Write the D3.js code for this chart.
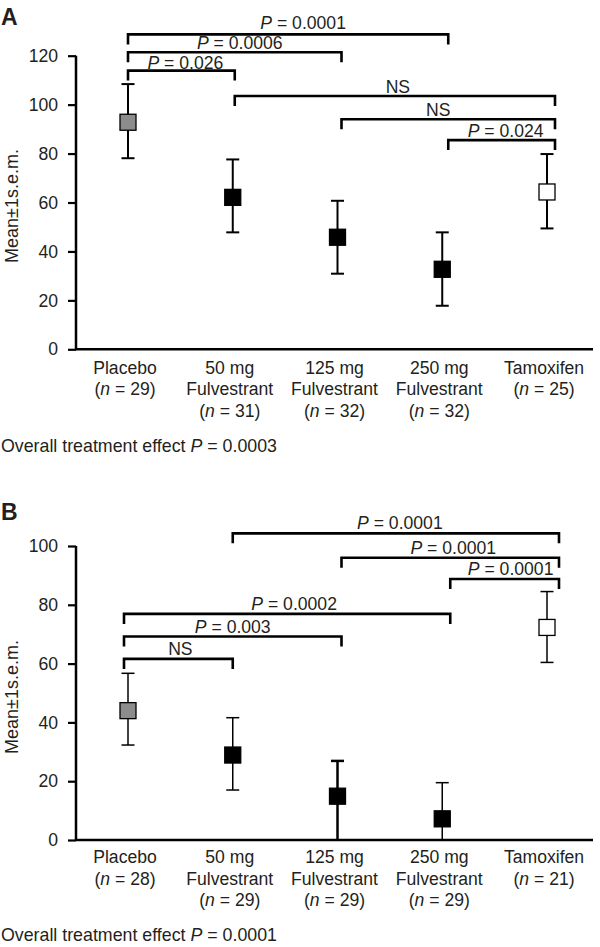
<!DOCTYPE html>
<html><head><meta charset="utf-8">
<script src="https://cdn.jsdelivr.net/npm/d3@7"></script>
<style>
body{margin:0;background:#fff;}
text{font-family:"Liberation Sans",Arial,Helvetica,sans-serif;fill:#231f20;}
</style></head>
<body><svg id="c" width="600" height="947"></svg>
<script>
// ---- data ----
const categories = [["Placebo"],["50 mg","Fulvestrant"],["125 mg","Fulvestrant"],["250 mg","Fulvestrant"],["Tamoxifen"]];
const nA = [29,31,32,32,25];
const nB = [28,29,29,29,21];
const meanA  = [92.8,62.1,45.8,32.7,64.3];
const upperA = [108.4,77.6,60.7,47.8,79.8];
const lowerA = [78.1,47.8,30.9,17.8,49.4];
const meanB  = [44.0,28.9,14.9,7.2,72.3];
const upperB = [56.7,41.6,26.9,19.5,84.5];
const lowerB = [32.3,17.0,0,0,60.4];
const ticksA = [0,20,40,60,80,100,120];
const ticksB = [0,20,40,60,80,100];
const bracketFromA  = [0,0,0,1,2,3];
const bracketToA    = [3,2,1,4,4,4];
const bracketLevelA = [128.7,121.4,113.9,103.5,94.0,85.5];
const bracketLabelA = ["P = 0.0001","P = 0.0006","P = 0.026","NS","NS","P = 0.024"];
const bracketFromB  = [1,2,3,0,0,0];
const bracketToB    = [4,4,4,3,2,1];
const bracketLevelB = [104.3,96.0,88.8,76.9,69.2,61.6];
const bracketLabelB = ["P = 0.0001","P = 0.0001","P = 0.0001","P = 0.0002","P = 0.003","NS"];
const overallA = "0.0003", overallB = "0.0001";
const yTitle = "Mean\u00b11s.e.m.";

// ---- style ----
const fills = ["#8c8c8c","#000","#000","#000","#fff"];
const FS = 17.6;
const svg = d3.select("#c");

function pText(sel, label){
  if(label.startsWith("P = ")){
    sel.append("tspan").attr("font-style","italic").text("P");
    sel.append("tspan").text(" = " + label.slice(4));
  } else sel.text(label);
}

function panel(o){
  const g = svg.append("g");
  const x = d3.scalePoint().domain(d3.range(5)).range([128,547]);
  const xb = d3.scalePoint().domain(d3.range(5)).range(o.bracketRange);
  const y = d3.scaleLinear().domain([0,o.ymax]).range(o.yRange);

  g.append("text").attr("x",1).attr("y",o.letterY).attr("font-size",23).attr("font-weight","bold").text(o.letter);

  const ax = g.append("g").attr("transform","translate(76,0)")
    .call(d3.axisLeft(y).tickValues(o.ticks).tickSize(8).tickSizeOuter(0).tickPadding(10).tickFormat(d3.format("d")));
  ax.select(".domain").remove();
  ax.selectAll(".tick line").attr("stroke","#000").attr("stroke-width",2.2);
  ax.selectAll(".tick text").attr("font-size",FS).attr("fill","#231f20").attr("font-family","Liberation Sans, Arial, sans-serif");
  g.append("line").attr("x1",76).attr("x2",76).attr("y1",y(0)).attr("y2",y(o.ymax)).attr("stroke","#000").attr("stroke-width",2.5);
  g.append("line").attr("x1",76).attr("x2",593).attr("y1",y(0)).attr("y2",y(0)).attr("stroke","#000").attr("stroke-width",2.5);

  g.append("text").attr("transform",`translate(18,${o.titleY}) rotate(-90)`).attr("text-anchor","middle").attr("font-size",18).text(yTitle);

  d3.range(5).forEach(i=>{
    const cx = x(i);
    const sw = o.ebWidth[i];
    g.append("line").attr("x1",cx).attr("x2",cx).attr("y1",y(o.upper[i])).attr("y2",y(o.lower[i])).attr("stroke","#000").attr("stroke-width",sw);
    [o.upper[i], o.lower[i]].forEach(v=>{
      if(v>0) g.append("line").attr("x1",cx-6.5).attr("x2",cx+6.5).attr("y1",y(v)).attr("y2",y(v)).attr("stroke","#000").attr("stroke-width",sw);
    });
    g.append("rect").attr("x",cx-8).attr("y",y(o.mean[i])-8).attr("width",16).attr("height",16)
      .attr("fill",fills[i]).attr("stroke","#000").attr("stroke-width",1.3);
  });

  o.from.forEach((f,k)=>{
    const x1 = xb(f), x2 = xb(o.to[k]), yy = y(o.level[k]);
    g.append("path").attr("d",`M${x1},${yy+10}V${yy}H${x2}V${yy+10}`).attr("fill","none").attr("stroke","#000").attr("stroke-width",2.6);
    const t = g.append("text").attr("x",(x1+x2)/2 + o.labelDx[k]).attr("y",yy-o.labelGap[k]).attr("text-anchor","middle").attr("font-size",FS);
    pText(t,o.labels[k]);
  });

  d3.range(5).forEach(i=>{
    const lines = categories[i].concat([null]);
    lines.forEach((ln,j)=>{
      const t = g.append("text").attr("x",x(i)-3).attr("y",o.catY + j*21.5).attr("text-anchor","middle").attr("font-size",FS);
      if(ln===null){
        t.append("tspan").text("(");
        t.append("tspan").attr("font-style","italic").text("n");
        t.append("tspan").text(" = " + o.n[i] + ")");
      } else t.text(ln);
    });
  });

  const ot = g.append("text").attr("x",1).attr("y",o.overallY).attr("font-size",17.8);
  ot.append("tspan").text("Overall treatment effect ");
  ot.append("tspan").attr("font-style","italic").text("P");
  ot.append("tspan").text(" = " + o.overall);
}

panel({letter:"A", letterY:25, ymax:120, yRange:[349.3,55.7], ticks:ticksA, titleY:206,
  mean:meanA, upper:upperA, lower:lowerA, n:nA, ebWidth:[2,2,2,2,2],
  bracketRange:[128,555], from:bracketFromA, to:bracketToA, level:bracketLevelA, labels:bracketLabelA,
  labelDx:[15,5,4,3,-10,4], labelGap:[5.7,3.6,1.9,3,3,3], catY:373.5, overallY:452, overall:overallA});

panel({letter:"B", letterY:520, ymax:100, yRange:[840,546], ticks:ticksB, titleY:697,
  mean:meanB, upper:upperB, lower:lowerB, n:nB, ebWidth:[1.5,1.5,2.5,1.5,1.5],
  bracketRange:[124,559], from:bracketFromB, to:bracketToB, level:bracketLevelB, labels:bracketLabelB,
  labelDx:[4,3,6,7,0,2], labelGap:[4,4,4,4,4,4], catY:863, overallY:941, overall:overallB});
</script></body></html>
